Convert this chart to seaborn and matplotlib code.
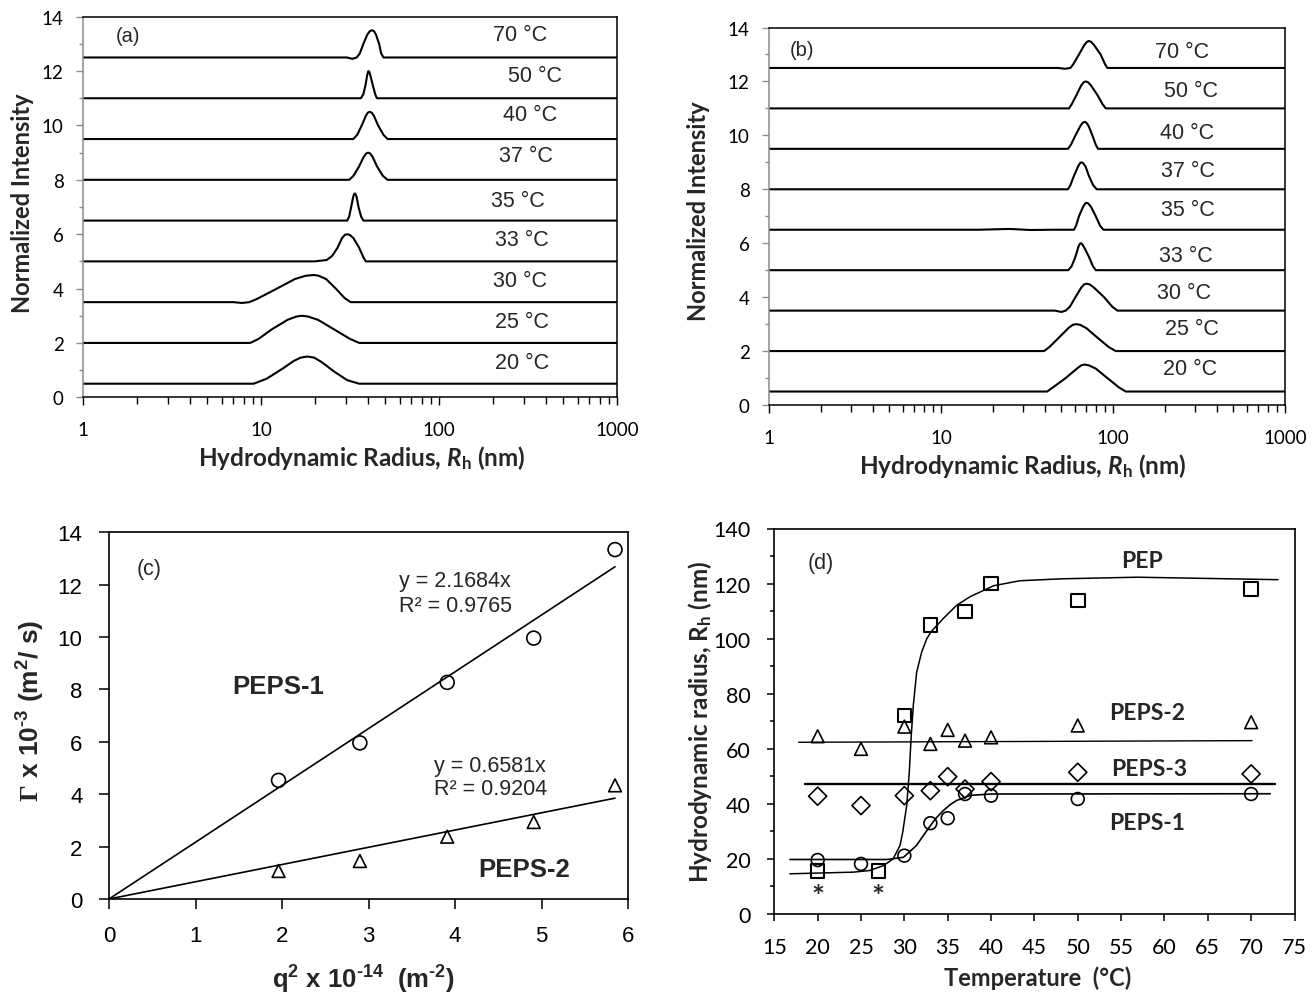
import numpy as np
import pandas as pd
import matplotlib
matplotlib.use("Agg")
import matplotlib.pyplot as plt
from matplotlib.ticker import LogLocator, NullFormatter, MultipleLocator
import seaborn as sns

sns.set_style("ticks")
plt.rcParams.update({
    "font.family": ["Liberation Sans", "DejaVu Sans"],
    "mathtext.fontset": "custom",
    "mathtext.rm": "Liberation Sans:bold",
    "mathtext.it": "Lato:italic:bold",
    "mathtext.bf": "Lato:bold",
    "mathtext.sf": "Liberation Serif:bold",
    "axes.linewidth": 1.1,
    "axes.edgecolor": "black",
    "xtick.color": "black",
    "ytick.color": "black",
    "xtick.direction": "out",
    "ytick.direction": "out",
})

# ---------------------------------------------------------------- data
TEMPS = [20, 25, 30, 33, 35, 37, 40, 50, 70]
OFFSETS = [0.5, 2.0, 3.5, 5.0, 6.5, 8.0, 9.5, 11.0, 12.5]
# normalised single-peak profile shared by most distributions
PEAK = [0, 0, 0.15, 0.5, 0.85, 0.97, 1.0, 0.97, 0.85, 0.5, 0.15, 0, 0]

# (a) PEPS-1 size distributions: hydrodynamic radius (nm) and intensity
a20_rh = [1, 9.1, 10.8, 13.4, 15.3, 16.7, 18.2, 19.9, 22.1, 25.7, 30.5, 35.6, 1000]
a20_int = [0, 0, 0.19, 0.58, 0.84, 0.96, 1.0, 0.96, 0.78, 0.45, 0.13, 0, 0]
a25_rh = [1, 8.7, 9.7, 11.5, 14.1, 15.8, 17.0, 18.4, 20.9, 25.7, 31.6, 35.6, 1000]
a25_int = PEAK
a30_rh = [1, 7.0, 7.8, 8.6, 9.5, 12.3, 15.5, 17.8, 19.8, 21.1, 23.2, 26.3, 29.5, 31.9, 1000]
a30_int = [0, 0, -0.03, 0, 0.12, 0.5, 0.85, 0.97, 1.0, 0.97, 0.85, 0.5, 0.15, 0, 0]
a33_rh = [1, 20.0, 23.4, 25.1, 26.9, 28.5, 29.5, 30.5, 31.6, 33.1, 35.6, 37.6, 38.8, 1000]
a33_int = [0, 0, 0.05, 0.2, 0.5, 0.85, 0.97, 1.0, 0.97, 0.85, 0.5, 0.15, 0, 0]
a35_rh = [1, 30.5, 31.3, 32.1, 32.9, 33.3, 33.7, 34.0, 34.5, 35.3, 36.5, 37.6, 1000]
a35_int = PEAK
a37_rh = [1, 31.3, 33.1, 35.6, 37.8, 39.0, 40.0, 41.0, 42.3, 44.8, 48.3, 51.4, 1000]
a37_int = PEAK
a40_rh = [1, 33.0, 34.7, 36.8, 38.8, 39.8, 40.8, 41.9, 43.1, 45.5, 48.8, 51.4, 1000]
a40_int = PEAK
a50_rh = [1, 36.4, 37.6, 38.7, 39.5, 39.9, 40.2, 40.6, 41.1, 42.4, 43.8, 44.8, 1000]
a50_int = PEAK
a70_rh = [1, 30.5, 32.5, 34.5, 35.9, 37.6, 39.6, 40.9, 42.0, 43.1, 44.2, 46.1, 47.3, 48.8, 1000]
a70_int = [0, 0, -0.05, 0, 0.15, 0.5, 0.85, 0.97, 1.0, 0.97, 0.85, 0.5, 0.15, 0, 0]

# (b) PEPS-2 size distributions
b20_rh = [1, 41.4, 44.7, 53.1, 61.7, 65.3, 68.4, 72.4, 79.4, 92.7, 108.4, 118.6, 1000]
b20_int = PEAK
b25_rh = [1, 39.7, 42.7, 48.5, 55.0, 58.2, 61.1, 64.6, 70.0, 81.1, 94.4, 103.7, 1000]
b25_int = PEAK
b30_rh = [1, 46.0, 50.1, 53.1, 56.2, 60.5, 65.3, 67.9, 70.3, 73.3, 77.6, 88.7, 98.9, 106.2, 1000]
b30_int = [0, 0, -0.05, 0, 0.15, 0.5, 0.85, 0.97, 1.0, 0.97, 0.85, 0.5, 0.15, 0, 0]
b33_rh = [1, 55.0, 57.5, 60.5, 62.8, 64.0, 64.9, 66.1, 67.9, 72.4, 76.4, 79.4, 1000]
b33_int = PEAK
b35_rh = [1, 16.6, 25.0, 33.0, 45.0, 59.3, 61.0, 63.4, 67.0, 68.9, 70.3, 71.9, 74.5, 79.4, 84.1, 87.9, 1000]
b35_int = [0, 0, 0.03, -0.01, 0, 0, 0.15, 0.5, 0.85, 0.97, 1.0, 0.97, 0.85, 0.5, 0.15, 0, 0]
b37_rh = [1, 54.7, 56.5, 59.3, 62.7, 64.3, 65.5, 67.0, 69.2, 72.4, 76.7, 80.4, 1000]
b37_int = PEAK
b40_rh = [1, 54.7, 56.9, 60.5, 64.6, 66.8, 68.4, 70.0, 72.1, 75.9, 79.4, 81.8, 1000]
b40_int = PEAK
b50_rh = [1, 55.5, 57.5, 61.4, 65.3, 67.6, 69.3, 71.6, 74.5, 81.1, 87.1, 90.8, 1000]
b50_int = PEAK
b70_rh = [1, 47.9, 52.5, 56.6, 58.9, 63.4, 68.1, 70.6, 72.4, 74.5, 77.6, 84.7, 89.7, 92.7, 1000]
b70_int = [0, 0, -0.03, 0, 0.15, 0.5, 0.85, 0.97, 1.0, 0.97, 0.85, 0.5, 0.15, 0, 0]

# (c) decay rate vs q^2
Q2 = [1.96, 2.90, 3.91, 4.91, 5.85]
GAMMA_PEPS1 = [4.53, 5.96, 8.27, 9.96, 13.34]
GAMMA_PEPS2 = [1.07, 1.45, 2.38, 2.94, 4.34]
SLOPE_PEPS1, R2_PEPS1 = 2.1684, 0.9765
SLOPE_PEPS2, R2_PEPS2 = 0.6581, 0.9204

# (d) hydrodynamic radius vs temperature
T_PEP = [20, 27, 30, 33, 37, 40, 50, 70]
RH_PEP = [15.6, 15.6, 72.0, 105.0, 109.8, 120.0, 113.9, 118.0]
T_PEPS = [20, 25, 30, 33, 35, 37, 40, 50, 70]
RH_PEPS2 = [64.5, 59.9, 68.0, 61.7, 66.8, 62.9, 64.1, 68.4, 69.6]
RH_PEPS3 = [42.7, 39.3, 42.9, 44.7, 49.8, 45.3, 48.0, 51.4, 50.8]
RH_PEPS1 = [19.5, 18.1, 21.1, 32.9, 34.7, 43.5, 42.9, 41.7, 43.5]
STAR_T = [20, 27]

# fitted trend curves
FIT_PEP_T = [16.8, 24.1, 26.0, 27.6, 28.7, 29.5, 29.81, 30.27, 30.57, 30.77, 31.03, 31.42,
             32.0, 32.58, 33.07, 34.49, 36.04, 37.57, 40.3, 43.3, 48.0, 56.8, 73.1]
FIT_PEP_RH = [14.5, 15.1, 15.7, 17.5, 19.9, 24.8, 29.6, 39.3, 51.4, 63.5, 75.6, 87.8,
              95.1, 99.9, 102.4, 107.3, 112.1, 115.2, 119.2, 121.0, 121.7, 122.3, 121.4]
FIT_PEPS1_T = [16.8, 28.0, 29.9, 31.4, 32.19, 33.0, 33.73, 34.5, 35.27, 36.0, 37.6, 40.0, 72.2]
FIT_PEPS1_RH = [19.7, 19.7, 20.5, 24.8, 28.4, 32.0, 35.0, 37.5, 39.6, 41.1, 43.0, 43.5, 43.6]
FIT_PEPS2_T = [17.8, 70.1]
FIT_PEPS2_RH = [62.3, 62.9]
FIT_PEPS3_T = [18.5, 72.7]
FIT_PEPS3_RH = [47.2, 47.2]

# ---------------------------------------------------------------- figure
W, H = 1312, 995
fig = plt.figure(figsize=(W / 100, H / 100), dpi=100)


def box(left, top, right, bottom):
    """Axes rectangle from pixel edges."""
    return [left / W, 1 - bottom / H, (right - left) / W, (bottom - top) / H]


def fxy(px, py):
    return px / W, 1 - py / H


ax_a = fig.add_axes(box(83, 17.7, 617, 398.3))
ax_b = fig.add_axes(box(769, 28.5, 1285, 406))
ax_c = fig.add_axes(box(109, 533.3, 628, 900))
ax_d = fig.add_axes(box(774.3, 529.5, 1294.5, 914.7))

GRAY = "#8c8c8c"
HYPH = "\u2010"


def open_markers(ax, x, y, marker, size, lw=1.2):
    sns.scatterplot(x=x, y=y, marker=marker, s=size, ax=ax, zorder=4)
    coll = ax.collections[-1]
    coll.set_facecolor("none")
    coll.set_edgecolor("black")
    coll.set_linewidth(lw)


def dls_panel(ax, rh_sets, int_sets, label_pos, tag, tag_pos):
    for temp, off, rh, inten in zip(TEMPS, OFFSETS, rh_sets, int_sets):
        df = pd.DataFrame({"rh": rh, "intensity": np.asarray(inten, float) + off})
        sns.lineplot(data=df, x="rh", y="intensity", ax=ax, color="black",
                     lw=1.5, estimator=None, sort=False)
    ax.set_xscale("log")
    ax.set_xlim(1, 1000)
    ax.set_ylim(0, 14)
    ax.set_xticks([1, 10, 100, 1000])
    ax.set_xticklabels(["1", "10", "100", "1000"])
    ax.xaxis.set_minor_locator(LogLocator(base=10, subs=range(2, 10)))
    ax.xaxis.set_minor_formatter(NullFormatter())
    ax.yaxis.set_major_locator(MultipleLocator(2))
    ax.yaxis.set_minor_locator(MultipleLocator(1))
    ax.spines["left"].set_color(GRAY)
    for s in ("top", "right", "bottom"):
        ax.spines[s].set_color("black")
    ax.tick_params(axis="both", which="major", labelsize=13.5, labelfontfamily="Lato")
    ax.tick_params(axis="x", which="major", length=6, width=1.0, pad=11)
    ax.tick_params(axis="x", which="minor", length=5, width=1.0)
    ax.tick_params(axis="y", which="major", length=5, width=1.0, color=GRAY, pad=9)
    ax.tick_params(axis="y", which="minor", length=3, width=1.0, color=GRAY)
    tr = ax.get_yaxis_transform()
    for temp, (lx, ly) in zip(TEMPS, label_pos):
        ax.text(lx, ly, f"{temp} °C", transform=tr, ha="center", va="center", fontsize=15.5)
    ax.text(tag_pos[0], tag_pos[1], tag, transform=tr, ha="center", va="center", fontsize=14.5)
    ax.set_xlabel(r"Hydrodynamic Radius, $R_{\mathbf{h}}$ (nm)", fontsize=17.5,
                  fontweight="bold", fontfamily="Lato")
    ax.set_ylabel("Normalized Intensity", fontsize=17, fontweight="bold", fontfamily="Lato")
    ax.xaxis.label.set_verticalalignment("center")
    ax.yaxis.label.set_verticalalignment("center")


# (a)
dls_panel(
    ax_a,
    [a20_rh, a25_rh, a30_rh, a33_rh, a35_rh, a37_rh, a40_rh, a50_rh, a70_rh],
    [a20_int, a25_int, a30_int, a33_int, a35_int, a37_int, a40_int, a50_int, a70_int],
    [(0.822, 1.29), (0.822, 2.78), (0.818, 4.29), (0.822, 5.82), (0.814, 7.23),
     (0.830, 8.89), (0.838, 10.42), (0.846, 11.83), (0.818, 13.33)],
    "(a)", (0.085, 13.3),
)
ax_a.xaxis.set_label_coords(*fxy(362, 458), transform=fig.transFigure)
ax_a.yaxis.set_label_coords(*fxy(23, 203), transform=fig.transFigure)

# (b)
dls_panel(
    ax_b,
    [b20_rh, b25_rh, b30_rh, b33_rh, b35_rh, b37_rh, b40_rh, b50_rh, b70_rh],
    [b20_int, b25_int, b30_int, b33_int, b35_int, b37_int, b40_int, b50_int, b70_int],
    [(0.816, 1.36), (0.819, 2.82), (0.805, 4.18), (0.808, 5.56), (0.811, 7.24),
     (0.812, 8.69), (0.810, 10.11), (0.818, 11.66), (0.801, 13.12)],
    "(b)", (0.064, 13.2),
)
ax_b.xaxis.set_label_coords(*fxy(1023, 466), transform=fig.transFigure)
ax_b.yaxis.set_label_coords(*fxy(698, 211), transform=fig.transFigure)

# (c)
q_fit = [0, max(Q2)]
sns.lineplot(x=q_fit, y=[SLOPE_PEPS1 * q for q in q_fit], ax=ax_c, color="black", lw=1.2)
sns.lineplot(x=q_fit, y=[SLOPE_PEPS2 * q for q in q_fit], ax=ax_c, color="black", lw=1.2)
open_markers(ax_c, Q2, GAMMA_PEPS1, "o", 100)
open_markers(ax_c, Q2, GAMMA_PEPS2, "^", 85)
ax_c.set_xlim(0, 6)
ax_c.set_ylim(0, 14)
ax_c.xaxis.set_major_locator(MultipleLocator(1))
ax_c.yaxis.set_major_locator(MultipleLocator(2))
ax_c.tick_params(axis="both", which="major", labelsize=16, length=7, width=1.1, pad=12)
ax_c.text(0.46, 12.6, "(c)", ha="center", va="center", fontsize=15.5)
ax_c.text(3.35, 12.15, f"y = {SLOPE_PEPS1}x", ha="left", va="center", fontsize=15.5)
ax_c.text(3.35, 11.22, f"R² = {R2_PEPS1}", ha="left", va="center", fontsize=15.5)
ax_c.text(3.76, 5.09, f"y = {SLOPE_PEPS2}x", ha="left", va="center", fontsize=15.5)
ax_c.text(3.76, 4.23, f"R² = {R2_PEPS2}", ha="left", va="center", fontsize=15.5)
ax_c.text(1.96, 8.14, "PEPS-1", ha="center", va="center", fontsize=18.5, fontweight="bold")
ax_c.text(4.80, 1.15, "PEPS-2", ha="center", va="center", fontsize=18.5, fontweight="bold")
ax_c.set_xlabel("q$^{2}$ x 10$^{" + HYPH + "14}$  (m$^{" + HYPH + "2}$)",
                fontsize=18.5, fontweight="bold")
ax_c.set_ylabel(r"$\mathsf{\Gamma}$ x 10$^{" + HYPH + "3}$ (m$^{2}$/ s)",
                fontsize=19, fontweight="bold")
ax_c.xaxis.label.set_verticalalignment("center")
ax_c.yaxis.label.set_verticalalignment("center")
ax_c.xaxis.set_label_coords(*fxy(363, 980), transform=fig.transFigure)
ax_c.yaxis.set_label_coords(*fxy(31, 711), transform=fig.transFigure)

# (d)
sns.lineplot(x=FIT_PEP_T, y=FIT_PEP_RH, ax=ax_d, color="black", lw=1.1, estimator=None, sort=False)
sns.lineplot(x=FIT_PEPS1_T, y=FIT_PEPS1_RH, ax=ax_d, color="black", lw=1.2, estimator=None, sort=False)
sns.lineplot(x=FIT_PEPS2_T, y=FIT_PEPS2_RH, ax=ax_d, color="black", lw=1.0, estimator=None, sort=False)
sns.lineplot(x=FIT_PEPS3_T, y=FIT_PEPS3_RH, ax=ax_d, color="black", lw=1.7, estimator=None, sort=False)
open_markers(ax_d, T_PEP, RH_PEP, "s", 95, lw=1.5)
open_markers(ax_d, T_PEPS, RH_PEPS2, "^", 85)
open_markers(ax_d, T_PEPS, RH_PEPS3, "D", 85)
open_markers(ax_d, T_PEPS, RH_PEPS1, "o", 85)
for t, rh in zip(T_PEP, RH_PEP):
    if t in STAR_T:
        ax_d.text(t, rh - 9.5, "*", ha="center", va="center", fontsize=22,
                  fontweight="bold", fontfamily="Lato")
ax_d.set_xlim(15, 75)
ax_d.set_ylim(0, 140)
ax_d.xaxis.set_major_locator(MultipleLocator(5))
ax_d.yaxis.set_major_locator(MultipleLocator(20))
ax_d.yaxis.set_minor_locator(MultipleLocator(10))
ax_d.tick_params(axis="both", which="major", labelsize=15.5, labelfontfamily="Lato",
                 length=5, width=1.1, pad=12)
ax_d.tick_params(axis="y", which="minor", length=3, width=1.1)
ax_d.text(20.3, 127.8, "(d)", ha="center", va="center", fontsize=15.5)
for name, (tx, ty) in zip(["PEP", "PEPS-2", "PEPS-3", "PEPS-1"],
                          [(57.4, 128.4), (58.0, 73.2), (58.2, 52.9), (58.0, 33.2)]):
    ax_d.text(tx, ty, name, ha="center", va="center", fontsize=16.5,
              fontweight="bold", fontfamily="Lato")
ax_d.set_xlabel("Temperature  (°C)", fontsize=17, fontweight="bold", fontfamily="Lato")
ax_d.set_ylabel(r"Hydrodynamic radius, R$_{\mathbf{h}}$ (nm)", fontsize=17.5,
                fontweight="bold", fontfamily="Lato")
ax_d.xaxis.label.set_verticalalignment("center")
ax_d.yaxis.label.set_verticalalignment("center")
ax_d.xaxis.set_label_coords(*fxy(1038, 978), transform=fig.transFigure)
ax_d.yaxis.set_label_coords(*fxy(700, 722), transform=fig.transFigure)

for ax in (ax_c, ax_d):
    for s in ax.spines.values():
        s.set_color("black")
        s.set_linewidth(1.2)

fig.savefig("out.png", dpi=100)
